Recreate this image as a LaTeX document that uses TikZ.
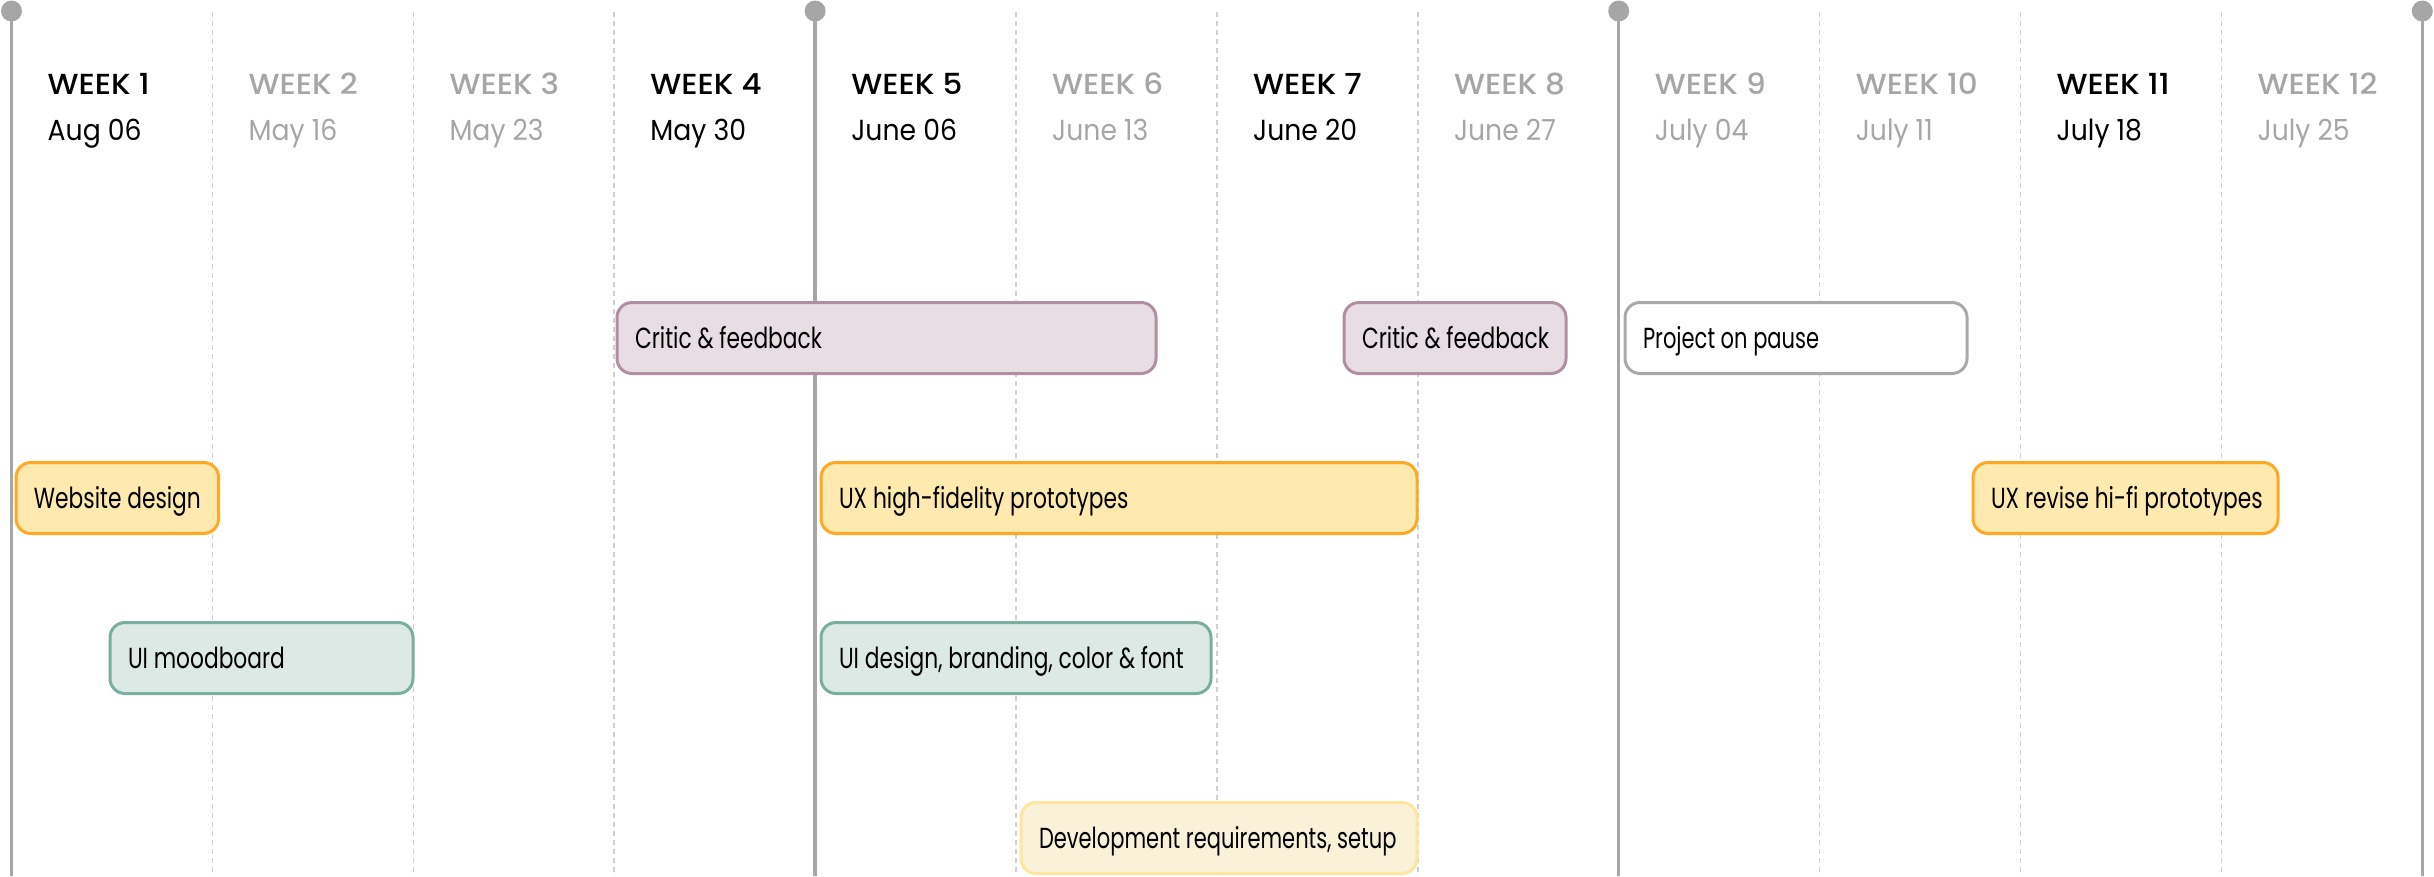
\documentclass[tikz,border=0pt]{standalone}
\usepackage{fontspec}
\setmainfont{Poppins}[FakeStretch=0.75]
\newfontfamily\narrowfont{Poppins}[FakeStretch=0.725]
\newfontfamily\datefont{Poppins}[FakeStretch=0.92]
\newfontfamily\hdrfont{Poppins}[UprightFont=* Medium, FakeStretch=1.07]
\definecolor{gridgray}{HTML}{A6A6A6}
\definecolor{dashgray}{HTML}{D0D0D0}
\definecolor{txtgray}{HTML}{A6A6A6}
\definecolor{critf}{HTML}{E8DDE3}
\definecolor{critd}{HTML}{B08FA3}
\definecolor{uxf}{HTML}{FEE9AE}
\definecolor{uxd}{HTML}{FFA826}
\definecolor{uif}{HTML}{DCE9E5}
\definecolor{uid}{HTML}{7AAE9F}
\definecolor{devf}{HTML}{FAF1D9}
\definecolor{devd}{HTML}{FDE6A0}
\definecolor{pausd}{HTML}{A9A9A9}
\newcommand\tk[2]{\makebox[#1][l]{#2}}
\tikzset{
  solidline/.style={draw=gridgray, line width=3.5pt},
  dashline/.style={draw=dashgray, line width=1.5pt, dash pattern=on 5pt off 4pt},
  hdr/.style={anchor=base west, inner sep=0pt, font=\hdrfont\fontsize{29}{31}\selectfont},
  datelbl/.style={anchor=base west, inner sep=0pt, font=\datefont\fontsize{29}{31}\selectfont},
  task/.style={rounded corners=15pt, line width=3pt, anchor=west, minimum height=71pt,
    inner xsep=18pt, inner ysep=0pt, text height=24pt, text depth=4pt,
    font=\fontsize{29}{31}\selectfont},
}
\begin{document}
\begin{tikzpicture}[x=1pt,y=-1pt]
\useasboundingbox (0,0) rectangle (2434,876);
% grid
\foreach \k in {1,2,3,5,6,7,9,10,11}
  \draw[dashline] ({11.5+200.9*\k},12) -- ({11.5+200.9*\k},876);
\foreach \k in {0,4,8,12}{
  \draw[solidline] ({11.5+200.9*\k},12) -- ({11.5+200.9*\k},876);
  \fill[gridgray] ({11.5+200.9*\k},11) circle (10.5);
}
% headers
\foreach \k/\d/\c in {1/Aug 06/black,2/May 16/txtgray,3/May 23/txtgray,4/May 30/black,
  5/June 06/black,6/June 13/txtgray,7/June 20/black,8/June 27/txtgray,
  9/July 04/txtgray,10/July 11/txtgray,11/July 18/black,12/July 25/txtgray}{
  \node[hdr, text=\c] (wk\k) at ({11.5+200.9*(\k-1)+36},94) {WEEK \k};
  \node[datelbl, text=\c] (dt\k) at ({11.5+200.9*(\k-1)+36},140) {\d};
}
% tasks: node width = R-L-3, text box = width-36
\node[task, fill=critf, draw=critd, minimum width=539pt] (crit1) at (615.5,338) {\tk{503pt}{Critic \& feedback}};
\node[task, fill=critf, draw=critd, minimum width=222pt] (crit2) at (1342.5,338) {\tk{186pt}{Critic \& feedback}};
\node[task, fill=white, draw=pausd, minimum width=342pt] (pause) at (1623.5,338) {\tk{306pt}{\narrowfont Project on pause}};
\node[task, fill=uxf, draw=uxd, minimum width=202.6pt] (web) at (14.5,498) {\tk{166.6pt}{Website design}};
\node[task, fill=uxf, draw=uxd, minimum width=596pt] (uxhf) at (819.5,498) {\tk{560pt}{UX high-fidelity prototypes}};
\node[task, fill=uxf, draw=uxd, minimum width=305pt] (uxrev) at (1971.5,498) {\tk{269pt}{UX revise hi-fi prototypes}};
\node[task, fill=uif, draw=uid, minimum width=303pt] (uimood) at (108.5,658) {\tk{267pt}{UI moodboard}};
\node[task, fill=uif, draw=uid, minimum width=390pt] (uides) at (819.5,658) {\tk{354pt}{UI design, branding, color \& font}};
\node[task, fill=devf, draw=devd, minimum width=396pt] (dev) at (1019.5,838) {\tk{360pt}{\narrowfont Development requirements, setup}};
\end{tikzpicture}
\end{document}
